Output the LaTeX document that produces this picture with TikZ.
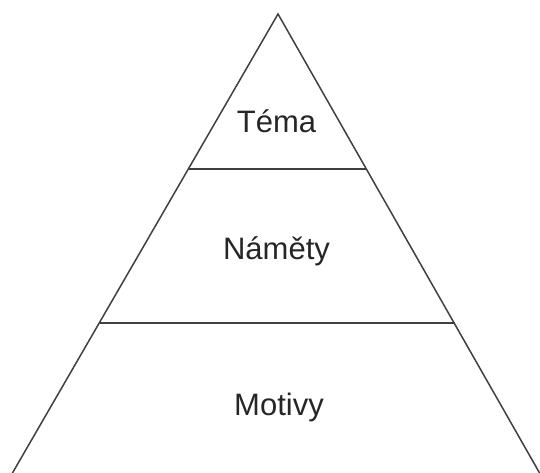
\documentclass[tikz,border=0pt]{standalone}
\usepackage{fontspec}
\setmainfont{Liberation Sans}
\begin{document}
\begin{tikzpicture}[x=1pt,y=-1pt,
  edge/.style={draw=black!75,line width=1.5pt},
  label/.style={anchor=base,font=\fontsize{31}{37}\selectfont,text=black!85,inner sep=0pt}]
\useasboundingbox (0,0) rectangle (540,472);
\clip (0,0) rectangle (540,472);
\coordinate (apex) at (278,14);
\coordinate (bl) at (10.7,476);
\coordinate (br) at (541.3,476);
\coordinate (l1) at (188.5,169);
\coordinate (r1) at (366.5,169);
\coordinate (l2) at (99.5,323);
\coordinate (r2) at (455,323);
\draw[edge,line join=miter] (bl) -- (apex) -- (br);
\draw[edge] (l1) -- (r1);
\draw[edge] (l2) -- (r2);
\node[label] (tema) at (276.5,132) {Téma};
\node[label] (namety) at (276.5,259) {Náměty};
\node[label] (motivy) at (279,415) {Motivy};
\end{tikzpicture}
\end{document}
